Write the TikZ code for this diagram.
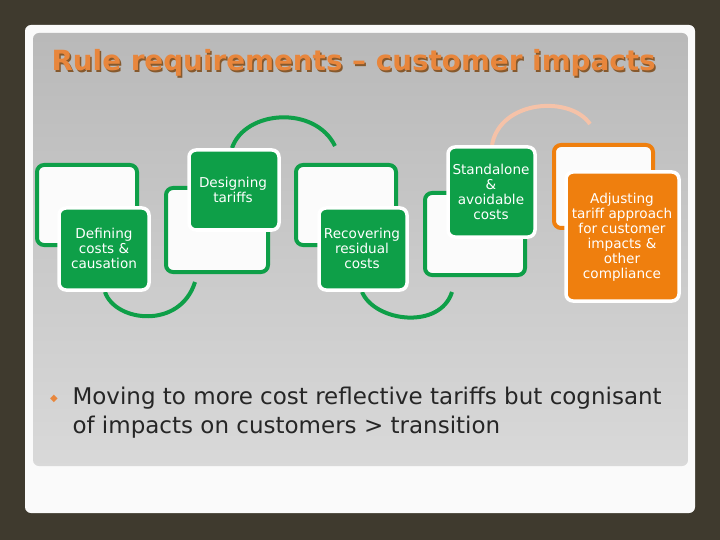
\documentclass[tikz,border=0pt]{standalone}
\usepackage{fontspec}
\setmainfont{DejaVu Sans}
\definecolor{bgd}{HTML}{3F3A2E}
\definecolor{gr}{HTML}{0E9F48}
\definecolor{orn}{HTML}{EF7F0E}
\definecolor{tit}{HTML}{E8863C}
\definecolor{pale}{HTML}{F5C2A8}
\begin{document}
\begin{tikzpicture}[x=1pt,y=-1pt,
  back/.style={draw=#1,line width=4pt,fill=white!97!gray,rounded corners=7pt},
  front/.style={draw=white,line width=3.5pt,fill=#1,rounded corners=7pt},
  lbl/.style={text=white,font=\fontsize{13.6}{15}\selectfont,align=center},
  arc/.style={draw=#1,line width=4pt}]
\fill[bgd] (0,0) rectangle (720,540);
\useasboundingbox (0,0) rectangle (720,540);
\fill[white!96!gray,rounded corners=6pt] (25,25) rectangle (695,513);
\shade[top color=gray!55,bottom color=gray!30,rounded corners=6pt] (33,33) rectangle (688,466);
\node (title) [anchor=west,text=tit,font=\bfseries\fontsize{27.8}{30}\selectfont] at (48,64) {\makebox[0pt][l]{\raisebox{-1.5pt}{\hspace{1.5pt}\color{brown!70!black}Rule requirements – customer impacts}}Rule requirements – customer impacts};
% arcs
\coordinate (a1s) at (105,292); \coordinate (a1e) at (195,282);
\draw[arc=gr] (a1s) .. controls (115,322) and (180,330) .. (a1e);
\coordinate (a2s) at (232,148); \coordinate (a2e) at (335,146);
\draw[arc=gr] (a2s) .. controls (245,110) and (315,105) .. (a2e);
\coordinate (a3s) at (362,292); \coordinate (a3e) at (452,292);
\draw[arc=gr] (a3s) .. controls (375,322) and (440,330) .. (a3e);
\coordinate (a4s) at (492,145); \coordinate (a4e) at (590,124);
\draw[arc=pale] (a4s) .. controls (500,100) and (570,95) .. (a4e);
% boxes
\draw[back=gr] (37,165) rectangle (137,245);
\draw[front=gr] (59,208) rectangle (149,290);
\node (b1) [lbl] at (104,248) {Defining\\costs \&\\causation};
\draw[back=gr] (166,188) rectangle (268,272);
\draw[front=gr] (189,150) rectangle (279,230);
\node (b2) [lbl] at (233,190) {Designing\\tariffs};
\draw[back=gr] (296,165) rectangle (396,245);
\draw[front=gr] (319,208) rectangle (407,290);
\node (b3) [lbl] at (362,248) {Recovering\\residual\\costs};
\draw[back=gr] (425,193) rectangle (525,275);
\draw[front=gr] (448,147) rectangle (535,237);
\node (b4) [lbl] at (491,192) {Standalone\\\&\\avoidable\\costs};
\draw[back=orn] (554,145) rectangle (653,228);
\draw[front=orn] (566,172) rectangle (679,301);
\node (b5) [lbl,inner sep=1pt] at (622,237) {Adjusting\\tariff approach\\for customer\\impacts \&\\other\\compliance};
% bullet text
\node (bul) [text=tit,font=\fontsize{10}{10}\selectfont] at (54,399) {◆};
\node (txt) [anchor=north west,align=left,font=\fontsize{23}{29}\selectfont,text=black!85] at (69,383) {Moving to more cost reflective tariffs but cognisant\\of impacts on customers > transition};
\end{tikzpicture}
\end{document}
